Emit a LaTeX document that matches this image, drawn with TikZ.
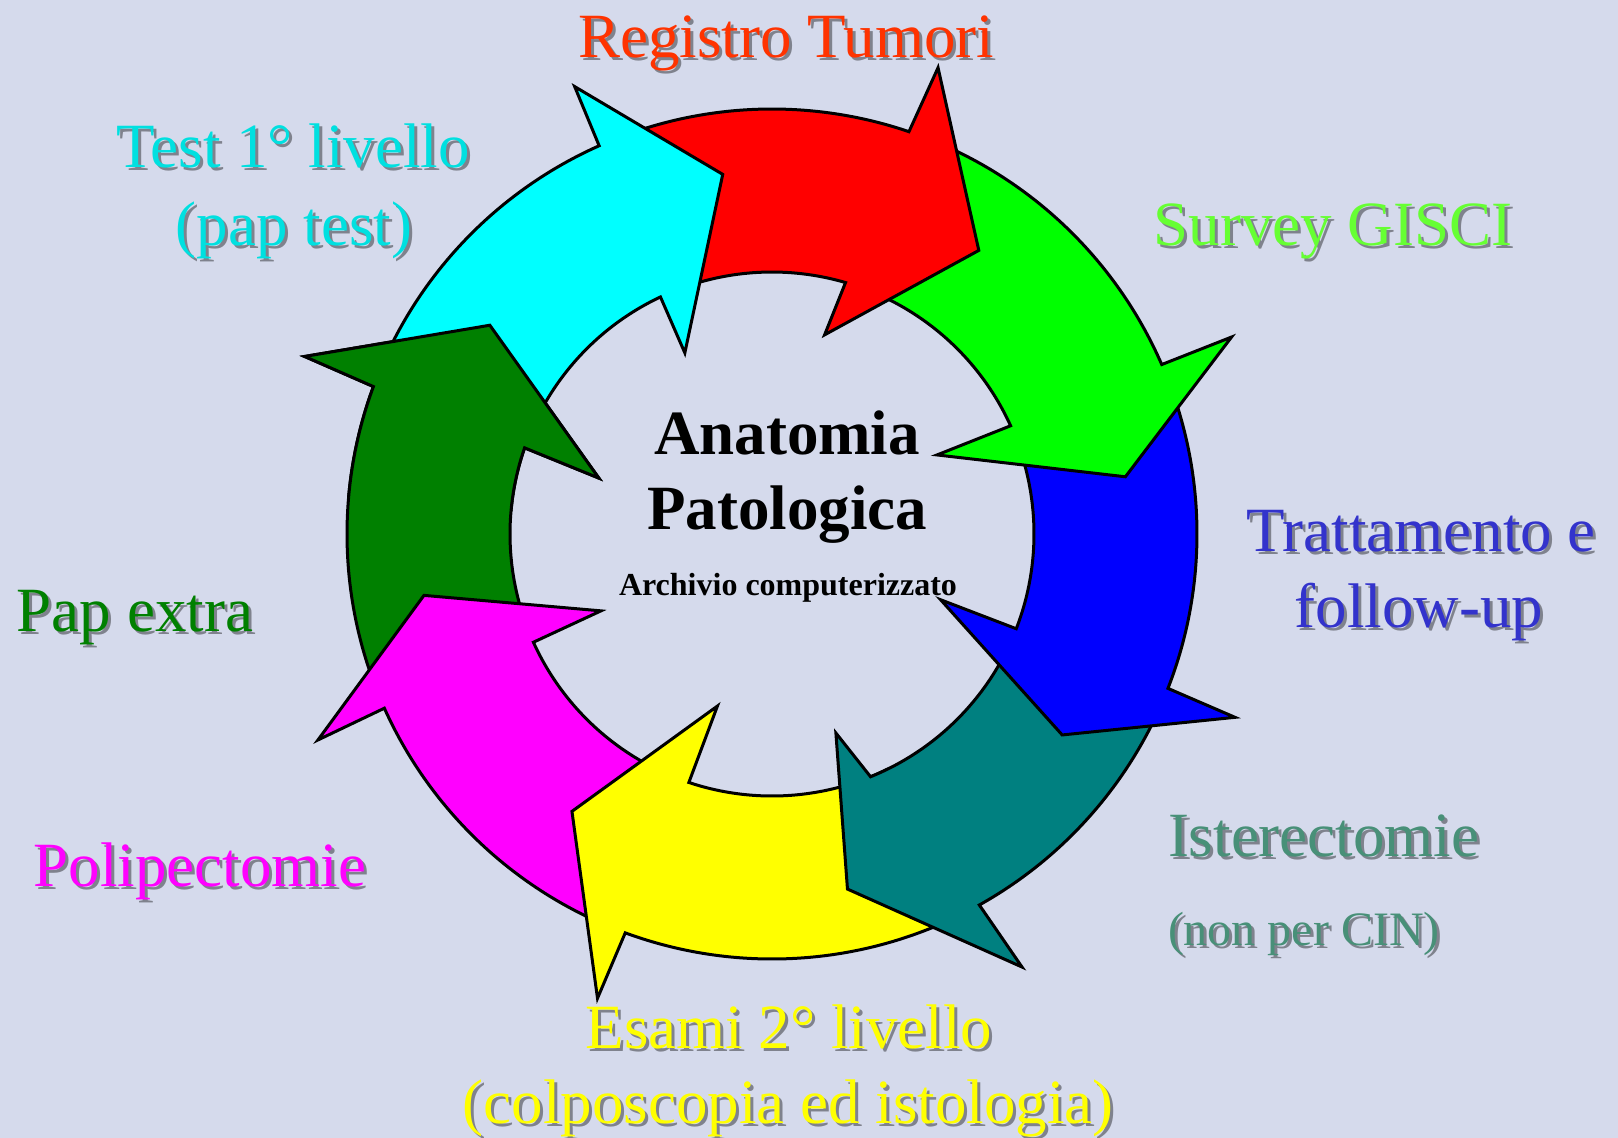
\documentclass[tikz,border=0pt]{standalone}
\usepackage{fontspec}
\setmainfont{Liberation Serif}
\definecolor{bg}{RGB}{213,218,236}
\definecolor{cRing1}{RGB}{0,255,255}
\definecolor{cRing2}{RGB}{255,0,0}
\definecolor{cRing3}{RGB}{0,255,0}
\definecolor{cRing4}{RGB}{0,0,255}
\definecolor{cRing5}{RGB}{0,128,128}
\definecolor{cRing6}{RGB}{255,255,0}
\definecolor{cRing7}{RGB}{255,0,255}
\definecolor{cRing8}{RGB}{0,128,0}
\definecolor{tReg}{RGB}{255,51,0}
\definecolor{tTest}{RGB}{0,224,224}
\definecolor{tSurv}{RGB}{102,255,51}
\definecolor{tTratt}{RGB}{51,51,204}
\definecolor{tIster}{RGB}{72,144,120}
\definecolor{tEsami}{RGB}{255,255,0}
\definecolor{tPolip}{RGB}{255,0,255}
\definecolor{tPap}{RGB}{0,128,0}
\newcommand\Ro{425}
\newcommand\Ri{262}
% #1 colour, #2 tail angle, #3 outer neck angle, #4 outer barb, #5 tip, #6 inner barb, #7 inner neck angle
\newcommand\ringarrow[7]{%
  \path[arrowshape, fill=#1] (#2:\Ro) arc[start angle=#2, end angle=#3, radius=\Ro]
    -- (#4) -- (#5) -- (#6) -- (#7:\Ri) arc[start angle=#7, end angle=#2, radius=\Ri] -- cycle;}
\newcommand\biglbl{\fontsize{63}{70}\selectfont}
\newcommand\midlbl{\fontsize{48}{54}\selectfont}
% #1 name, #2 position, #3 anchor, #4 colour, #5 font, #6 text
\newcommand\shlbl[6]{%
  \node[lbl, anchor=#3, text=black, opacity=0.4, font=#5] (#1s) at ($(#2)+(3,3)$) {#6};
  \node[lbl, anchor=#3, text=#4, font=#5] (#1) at (#2) {#6};}
\usetikzlibrary{calc}
\begin{document}
\begin{tikzpicture}[x=1pt,y=-1pt,
  arrowshape/.style={draw=black, line width=3pt, line join=miter},
  lbl/.style={inner sep=0pt, outer sep=0pt}]
\fill[bg] (0,0) rectangle (1618,1138);
\useasboundingbox (0,0) rectangle (1618,1138);
\begin{scope}[shift={(772,534)}]
  % drawn in reverse order so each head lies over the next tail
  \ringarrow{cRing8}{518}{560.3}{560.8:500}{576.5:351}{557.9:182}{559.2}
  \ringarrow{cRing7}{472}{515.8}{515.6:498.6}{530:353.4}{515.8:187.5}{515.6}
  \ringarrow{cRing6}{424}{470.2}{470.6:496}{485.8:342}{467.6:180.5}{468.5}
  \ringarrow{cRing5}{383}{420.8}{420:500}{438:363}{432.2:209}{427.9}
  \ringarrow{cRing4}{338}{381.3}{381.6:498}{394.7:353}{381.3:181}{381.2}
  \ringarrow{cRing3}{291}{336.5}{336.8:500}{350.8:358}{334.4:183}{335.6}
  \ringarrow{cRing2}{248}{288.8}{289.6:495}{306.1:351}{284.8:206}{286.3}
  \ringarrow{cRing1}{202}{246}{246.2:489}{262.2:363}{244.3:201}{244.8}
  % dark green head over the cyan tail
  \begin{scope}
    \clip (0,0) -- (185:650) arc[start angle=185, end angle=255, radius=650] -- cycle;
    \ringarrow{cRing8}{518}{560.3}{560.8:500}{576.5:351}{557.9:182}{559.2}
  \end{scope}
\end{scope}
% labels
\shlbl{reg}{786,57}{base}{tReg}{\biglbl}{Registro Tumori}
\shlbl{testa}{293,167}{base}{tTest}{\biglbl}{Test 1° livello}
\shlbl{testb}{294,245}{base}{tTest}{\biglbl}{(pap test)}
\shlbl{surv}{1333,245}{base}{tSurv}{\biglbl}{Survey GISCI}
\shlbl{tratta}{1421,551}{base}{tTratt}{\biglbl}{Trattamento e}
\shlbl{trattb}{1419,627}{base}{tTratt}{\biglbl}{follow-up}
\shlbl{istera}{1168,856}{base west}{tIster}{\biglbl}{Isterectomie}
\shlbl{isterb}{1168,945}{base west}{tIster}{\midlbl}{(non per CIN)}
\shlbl{esamia}{789,1048}{base}{tEsami}{\biglbl}{Esami 2° livello}
\shlbl{esamib}{788,1123}{base}{tEsami}{\biglbl}{(colposcopia ed istologia)}
\shlbl{polip}{200,886}{base}{tPolip}{\biglbl}{Polipectomie}
\shlbl{pap}{135,631}{base}{tPap}{\biglbl}{Pap extra}
\node[lbl, anchor=base, font=\biglbl\bfseries] (anat) at (787,454) {Anatomia};
\node[lbl, anchor=base, font=\biglbl\bfseries] (pato) at (787,529) {Patologica};
\node[lbl, anchor=base, font=\fontsize{32}{36}\selectfont\bfseries] (arch) at (788,595) {Archivio computerizzato};
\end{tikzpicture}
\end{document}
